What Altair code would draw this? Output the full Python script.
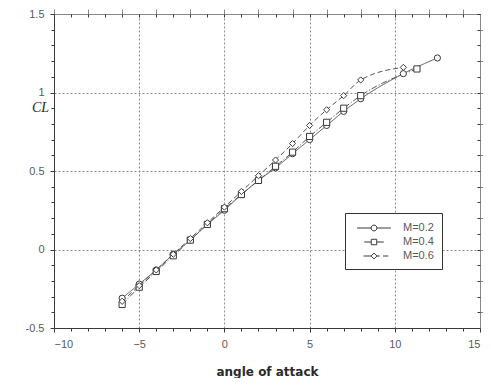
import altair as alt
import pandas as pd

series = ["M=0.2", "M=0.4", "M=0.6"]

alpha_m02 = [-6, -5, -4, -3, -2, -1, 0, 1, 2, 3, 4, 5, 6, 7, 8, 10.5, 12.5]
cl_m02 = [-0.31, -0.22, -0.13, -0.03, 0.06, 0.16, 0.25, 0.35, 0.44, 0.52, 0.61, 0.70, 0.79, 0.88, 0.96, 1.12, 1.22]

alpha_m04 = [-6, -5, -4, -3, -2, -1, 0, 1, 2, 3, 4, 5, 6, 7, 8, 11.3]
cl_m04 = [-0.35, -0.24, -0.14, -0.04, 0.06, 0.16, 0.26, 0.35, 0.44, 0.53, 0.62, 0.72, 0.81, 0.90, 0.98, 1.15]

alpha_m06 = [-6, -5, -4, -3, -2, -1, 0, 1, 2, 3, 4, 5, 6, 7, 8, 10.5]
cl_m06 = [-0.33, -0.23, -0.13, -0.03, 0.07, 0.17, 0.27, 0.37, 0.47, 0.57, 0.675, 0.79, 0.89, 0.98, 1.08, 1.16]

x_ticks = [-10, -9, -8, -7, -6, -5, -4, -3, -2, -1, 0, 1, 2, 3, 4, 5, 6, 7, 8, 9, 10, 11, 12, 13, 14, 15]
y_ticks = [-0.5, -0.4, -0.3, -0.2, -0.1, 0, 0.1, 0.2, 0.3, 0.4, 0.5, 0.6, 0.7, 0.8, 0.9,
           1.0, 1.1, 1.2, 1.3, 1.4, 1.5]

rows = []
for name, xs, ys in zip(series, [alpha_m02, alpha_m04, alpha_m06], [cl_m02, cl_m04, cl_m06]):
    for a, c in zip(xs, ys):
        rows.append({"series": name, "alpha": a, "cl": c})
df = pd.DataFrame(rows)

INK = "#3a3a3a"
LBL = "#5a5a5a"
GRID = "#8a8a8a"

x_major = "datum.value % 5 === 0"
y_major = "abs(datum.value * 2 - round(datum.value * 2)) < 0.001"

x_scale = alt.Scale(domain=[-10, 15], nice=False, zero=False)
y_scale = alt.Scale(domain=[-0.5, 1.5], nice=False, zero=False)

x_main = alt.X(
    "alpha:Q", scale=x_scale, title="angle of attack",
    axis=alt.Axis(
        orient="bottom", values=x_ticks,
        labelExpr=f"{x_major} ? datum.label : ''",
        grid=True, gridColor=GRID, gridDash=[2, 2], gridWidth=1,
        gridOpacity={"condition": {"test": x_major, "value": 1}, "value": 0},
        tickSize={"condition": {"test": x_major, "value": 4}, "value": 3},
        tickColor=INK, domainColor=INK,
        labelFont="Liberation Sans", labelFontSize=11, labelColor=LBL, labelPadding=6,
        titleFont="DejaVu Sans", titleFontSize=12, titleFontWeight="bold",
        titleColor="#2a2a2a", titlePadding=17,
    ),
)
y_main = alt.Y(
    "cl:Q", scale=y_scale, title="CL",
    axis=alt.Axis(
        orient="left", values=y_ticks,
        labelExpr=f"{y_major} ? ('' + datum.value) : ''",
        grid=True, gridColor=GRID, gridDash=[2, 2], gridWidth=1,
        gridOpacity={"condition": {"test": y_major, "value": 1}, "value": 0},
        tickSize={"condition": {"test": y_major, "value": 4}, "value": 3},
        tickColor=INK, domainColor=INK,
        labelFont="Liberation Sans", labelFontSize=11, labelColor=LBL, labelPadding=6,
        titleAngle=0, titleX=-14, titleY=93, titleAlign="center", titleBaseline="middle",
        titleFont="Liberation Serif", titleFontStyle="italic", titleFontWeight="normal",
        titleFontSize=14, titleColor="#2a2a2a",
    ),
)

lines = alt.Chart(df).mark_line(interpolate="monotone", strokeWidth=1, color="#555555").encode(
    x=x_main, y=y_main,
    strokeDash=alt.StrokeDash(
        "series:N",
        scale=alt.Scale(domain=series, range=[[1, 0], [6, 2, 1, 2], [5, 3]]),
        legend=None,
    ),
    detail="series:N",
)

points = alt.Chart(df).mark_point(filled=False, fill="white", fillOpacity=1,
                                  strokeWidth=1, color=INK, size=38, opacity=1).encode(
    x="alpha:Q", y="cl:Q",
    shape=alt.Shape("series:N",
                    scale=alt.Scale(domain=series, range=["circle", "square", "diamond"]),
                    legend=None),
)

legend_paths = [
    "M-2.6,0L-0.45,0M0.45,0L2.6,0M0.45,0A0.45,0.45,0,1,1,-0.45,0A0.45,0.45,0,1,1,0.45,0",
    "M-1.5,0L-0.45,0M0.45,0L1.5,0M0.42,-0.42L0.42,0.42L-0.42,0.42L-0.42,-0.42Z",
    "M-1.6,0L-0.45,0M0.45,0L0.9,0M1.4,0L2.2,0M0,-0.45L0.45,0L0,0.45L-0.45,0Z",
]

legend_layer = alt.Chart(df).transform_filter("false").mark_point(
    filled=False, color=INK, strokeWidth=1, opacity=1
).encode(
    x=alt.X("alpha:Q", scale=x_scale,
            axis=alt.Axis(orient="top", values=x_ticks, labelExpr="''",
                          labelOpacity=0, labelFontSize=1, labelPadding=-12,
                          grid=False, domain=False, ticks=True, tickSize=3,
                          tickColor=INK, title=None, offset=-3)),
    y=alt.Y("cl:Q", scale=y_scale,
            axis=alt.Axis(orient="right", values=y_ticks, labelExpr="''",
                          labelOpacity=0, labelFontSize=1, labelPadding=-12,
                          grid=False, domain=False, ticks=True, tickSize=3,
                          tickColor=INK, title=None, offset=-3)),
    shape=alt.Shape(
        "series:N",
        scale=alt.Scale(domain=series, range=legend_paths),
        legend=alt.Legend(
            orient="none", legendX=291, legendY=199, title=None,
            fillColor="white", strokeColor="#333333", padding=8,
            symbolSize=169, symbolOffset=14, labelOffset=22,
            symbolStrokeWidth=1, symbolStrokeColor=INK, symbolFillColor="white",
            labelFont="Liberation Sans", labelFontSize=11, labelColor=LBL,
            rowPadding=2,
        ),
    ),
)

chart = alt.layer(lines, points, legend_layer).resolve_scale(
    shape="independent"
).properties(
    width=426, height=314,
    autosize=alt.AutoSizeParams(type="none"),
    padding={"left": 46, "top": 6, "right": 3, "bottom": 50},
    background="white",
).configure_view(stroke=INK, strokeWidth=1)

chart.save("out.html", embed_options={"renderer": "svg", "actions": False})
